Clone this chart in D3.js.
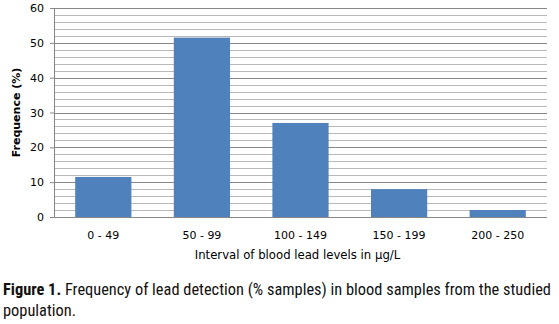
<!DOCTYPE html>
<meta charset="utf-8">
<style>
body { margin: 0; background: #fff; }
.tick text { font-family: "DejaVu Sans", Verdana, sans-serif; font-size: 11px; fill: #000; }
.caption { font-family: "Liberation Sans Narrow", "Roboto Condensed", "Liberation Sans", sans-serif; font-size: 16.3px; fill: #111; }
</style>
<svg width="559" height="324"></svg>
<script src="https://cdn.jsdelivr.net/npm/d3@7"></script>
<script>

var categories = ["0 - 49", "50 - 99", "100 - 149", "150  - 199", "200 - 250"];
var values = [11.5, 51.5, 27, 8, 2];
var yTicks = [0, 10, 20, 30, 40, 50, 60];

var svg = d3.select("svg"),
    margin = {top: 8, right: 12, bottom: 107, left: 54},
    width = +svg.attr("width") - margin.left - margin.right,
    height = +svg.attr("height") - margin.top - margin.bottom;

var x = d3.scaleBand().domain(categories).range([0, width]).paddingInner(0.43).paddingOuter(0.215),
    y = d3.scaleLinear().domain([0, 60]).range([height, 0]);

var g = svg.append("g")
    .attr("transform", "translate(" + margin.left + "," + margin.top + ")");

// gridlines, minor every 2, major every 10
var grid = d3.range(2, 61, 2);
g.selectAll(".grid")
    .data(grid)
  .enter().append("line")
    .attr("x1", 0).attr("x2", width)
    .attr("y1", function(d) { return Math.round(y(d)) + 0.5; })
    .attr("y2", function(d) { return Math.round(y(d)) + 0.5; })
    .attr("stroke", function(d) { return d % 10 === 0 ? "#878787" : "#b9b9b9"; })
    .attr("stroke-width", 1);

g.selectAll(".bar")
    .data(values)
  .enter().append("rect")
    .attr("fill", "#4f81bd")
    .attr("x", function(d, i) { return x(categories[i]); })
    .attr("y", function(d) { return y(d); })
    .attr("width", x.bandwidth())
    .attr("height", function(d) { return height - y(d); });

var yAxis = g.append("g")
    .call(d3.axisLeft(y).tickValues(yTicks).tickSize(4).tickPadding(6));
yAxis.selectAll("line, path").attr("stroke", "#878787");
yAxis.select(".domain").attr("d", "M0.5,0V" + height);

var xAxis = g.append("g")
    .attr("transform", "translate(0," + height + ")")
    .call(d3.axisBottom(x).tickSize(0).tickPadding(14));
xAxis.select(".domain").attr("stroke", "#878787").attr("d", "M0,0.5H" + width);

g.append("text")
    .attr("x", width / 2 - 3)
    .attr("y", height + 42)
    .attr("text-anchor", "middle")
    .style("font-family", "'DejaVu Sans', Verdana, sans-serif")
    .style("font-size", "11.7px")
    .text("Interval of blood lead levels in \u00b5g/L");

svg.append("text")
    .attr("transform", "translate(20," + (margin.top + height / 2) + ") rotate(-90)")
    .attr("text-anchor", "middle")
    .style("font-family", "'DejaVu Sans', Verdana, sans-serif")
    .style("font-size", "11px")
    .style("font-weight", "bold")
    .text("Frequence (%)");

var cap = svg.append("text").attr("class", "caption").attr("x", 3).attr("y", 295)
    .attr("textLength", 548).attr("lengthAdjust", "spacingAndGlyphs");
cap.append("tspan").style("font-weight", "bold").text("Figure 1.");
cap.append("tspan").text(" Frequency of lead detection (% samples) in blood samples from the studied");
svg.append("text").attr("class", "caption").attr("x", 3).attr("y", 316)
    .attr("textLength", 73).attr("lengthAdjust", "spacingAndGlyphs")
    .text("population.");

</script>
